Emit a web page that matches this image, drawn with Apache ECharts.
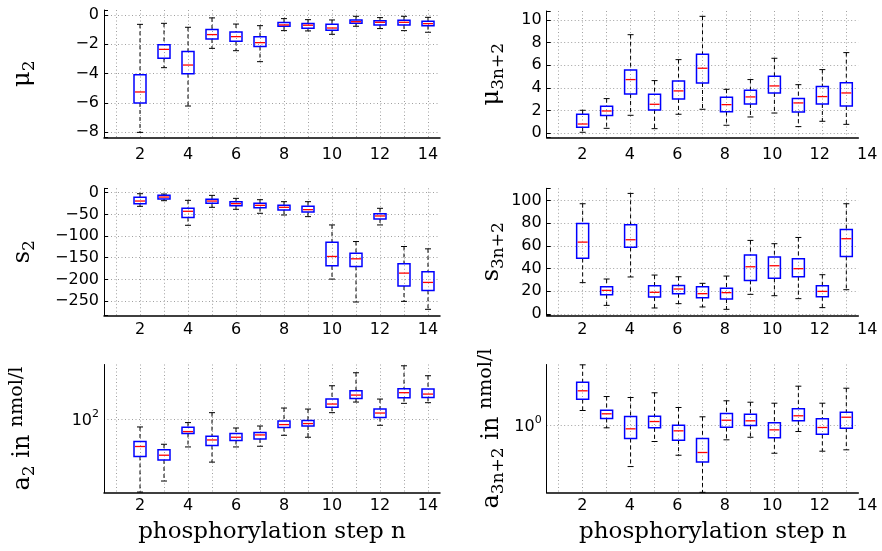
<!DOCTYPE html>
<html><head><meta charset="utf-8">
<script src="https://cdn.jsdelivr.net/npm/echarts@6/dist/echarts.min.js"></script>
<style>html,body{margin:0;padding:0;background:#fff}#c{width:882px;height:551px}</style>
</head><body><div id="c"></div>
<script>
// ---------- data ----------
const stepsLeft  = [2,3,4,5,6,7,8,9,10,11,12,13,14];
const stepsRight = [2,3,4,5,6,7,8,9,10,11,12,13];
const xTickLabels = [2,4,6,8,10,12,14];

// each box: [lower whisker, q1, median, q3, upper whisker]
const mu2Boxes = [
  [-8.02,-6.01,-5.26,-4.08,-0.64],[-3.6,-2.96,-2.35,-2.03,-0.57],[-6.22,-4.01,-3.42,-2.5,-0.84],
  [-2.28,-1.64,-1.34,-1.0,-0.2],[-2.44,-1.8,-1.48,-1.16,-0.62],[-3.19,-2.16,-1.89,-1.48,-0.73],
  [-1.07,-0.77,-0.68,-0.52,-0.25],[-1.09,-0.91,-0.7,-0.59,-0.32],[-1.32,-1.05,-0.89,-0.64,-0.34],
  [-0.77,-0.57,-0.46,-0.34,-0.09],[-0.93,-0.68,-0.5,-0.39,-0.18],[-1.07,-0.68,-0.5,-0.36,-0.09],
  [-1.18,-0.73,-0.59,-0.43,-0.16]
];
const mu3nBoxes = [
  [0.09,0.53,0.82,1.68,2.03],[0.44,1.56,1.97,2.38,3.06],[1.59,3.47,4.74,5.59,8.7],
  [0.41,2.06,2.56,3.44,4.65],[1.68,3.03,3.74,4.62,6.5],[2.12,4.44,5.74,6.97,10.32],
  [0.71,1.91,2.53,3.18,3.88],[1.44,2.59,3.21,3.79,4.74],[1.79,3.56,4.18,5.03,6.62],
  [0.59,1.88,2.68,3.06,4.29],[1.06,2.59,3.24,4.12,5.62],[0.79,2.41,3.56,4.47,7.12]
];
const s2Boxes = [
  [-31.4,-25.3,-19.2,-10.7,-2.3],[-18.4,-14.6,-10,-6.1,-3.1],[-75.2,-57.5,-42.9,-36,-17.6],
  [-33.7,-24.5,-19.2,-15.3,-6.1],[-38.3,-29.9,-25.3,-20.7,-13],[-47.5,-34.5,-29.1,-24.5,-16.1],
  [-51.4,-39.9,-33.7,-29.1,-20.7],[-55.2,-44.5,-39.1,-31.4,-20.7],[-199.4,-168.7,-147.2,-114.3,-74.4],
  [-252.3,-170.2,-152.6,-139.6,-112.7],[-74.4,-60.6,-53.7,-48.3,-36],[-250.8,-215.5,-185.6,-164.1,-124.2],
  [-269.2,-225.5,-207.1,-182.5,-129.6]
];
const s3nBoxes = [
  [27.6,49,63.3,79.8,97.1],[7.6,17,20.8,24,30.8],[32.6,58.7,65.4,78.6,106.2],
  [5.3,15,19.1,24.9,34.3],[9.1,17.9,22,25.2,32.8],[6.2,14.4,17.9,24,27],
  [4.1,13.2,18.8,22.6,33.4],[17.3,29.6,41.6,51.9,64.8],[16.1,31.4,42.5,50.1,61.9],
  [13.5,32.8,39.9,48.7,67.4],[5.6,15.2,19.9,24.9,34.6],[21.4,50.7,66.3,74.5,97.1]
];
const a2Boxes = [
  [24.5,48.6,58.9,64.9,85.8],[30.3,45.5,49.8,55.2,61.5],[58.4,75.6,78.5,85.3,93.3],
  [43.6,60,66.8,71.8,113],[58.4,66.1,70.4,75.6,84.1],[59.2,68.1,73.6,77.1,87.4],
  [73.1,84.8,89.8,96.2,123.5],[70.4,87.4,91.6,97,121.1],[113,125.2,133.4,146.8,189.7],
  [138.6,148.7,158.5,172.5,243.6],[88.6,102.7,112.2,121.1,146.8],[135.2,150.7,166,179.2,278.6],
  [136.9,151.6,161.6,177.8,230]
];
const a3nBoxes = [
  [1.316,1.63,1.92,2.26,3.16],[0.944,1.128,1.235,1.324,1.72],[0.449,0.769,0.926,1.173,1.689],
  [0.726,0.944,1.065,1.179,1.848],[0.558,0.744,0.891,0.992,1.394],[0.274,0.491,0.588,0.769,1.166],
  [0.75,0.955,1.092,1.242,1.585],[0.788,0.987,1.08,1.226,1.543],[0.58,0.779,0.908,1.039,1.514],
  [0.879,1.08,1.189,1.359,2.098],[0.603,0.835,0.95,1.122,1.514],[0.619,0.937,1.157,1.274,2.018]
];

const mu2Ticks = [-8,-6,-4,-2,0];
const mu3nTicks = [0,2,4,6,8,10];
const s2Ticks = [-250,-200,-150,-100,-50,0];
const s3nTicks = [0,20,40,60,80,100];

// ---------- style ----------
const TICK_FONT = 'DejaVu Sans';
const TITLE_FONT = 'DejaVu Serif';
const GRID_COLOR = '#a0a0a0';
const GRID_DASH = [1, 2.5];

const L = {left:104, width:336};
const R = {left:546.7, width:311.6};
const RL = {left:546.7, width:335.6};
const rows = [
  {top:10, height:127.5},
  {top:188.3, height:127},
  {top:364.5, height:128.2}
];

const titleRich = {
  g:{fontFamily:TITLE_FONT, fontSize:24, lineHeight:30, color:'#000', verticalAlign:'middle'},
  s:{fontFamily:TITLE_FONT, fontSize:17, lineHeight:14, color:'#000', verticalAlign:'bottom'},
  u:{fontFamily:TITLE_FONT, fontSize:19, lineHeight:18, color:'#000', verticalAlign:'top'}
};

function fmtNum(v){ return v < 0 ? '\u2212' + Math.abs(v) : String(v); }

function xAxisDef(gridIndex, max, opts) {
  return Object.assign({
    type:'value', gridIndex, min:0.5, max, minInterval:1, maxInterval:1, splitNumber:14,
    axisLine:{show:true, onZero:false, lineStyle:{color:'#000', width:1.5}},
    axisTick:{show:false},
    axisLabel:{show:true, margin:8, fontFamily:TICK_FONT, fontSize:16, color:'#000',
      formatter: v => xTickLabels.indexOf(v) >= 0 ? String(v) : ''},
    splitLine:{show:true, showMinLine:false, showMaxLine:false,
      lineStyle:{color:GRID_COLOR, type:GRID_DASH, width:1}}
  }, opts || {});
}

function yValueAxis(gridIndex, min, max, step, ticks, name, nameGap) {
  return {
    type:'value', gridIndex, min, max, minInterval:step, maxInterval:step,
    splitNumber: Math.round((max-min)/step),
    axisLine:{show:true, onZero:false, lineStyle:{color:'#000', width:1}},
    axisTick:{show:true, inside:true, length:4, lineStyle:{color:'#000'}},
    axisLabel:{margin:5, fontFamily:TICK_FONT, fontSize:16, color:'#000',
      formatter: v => ticks.some(t => Math.abs(t - v) < 1e-9) ? fmtNum(Math.round(v)) : ''},
    splitLine:{show:true, showMinLine:false, showMaxLine:false,
      lineStyle:{color:GRID_COLOR, type:GRID_DASH, width:1}},
    name, nameLocation:'middle', nameGap, nameRotate:90,
    nameTextStyle:{rich:titleRich}
  };
}

function yLogAxis(gridIndex, min, max, name, nameGap) {
  return {
    type:'log', logBase:10, gridIndex, min, max,
    axisLine:{show:true, onZero:false, lineStyle:{color:'#000', width:1}},
    axisTick:{show:false},
    minorTick:{show:false},
    axisLabel:{margin:5, color:'#000',
      formatter: v => {
        const e = Math.log10(v);
        return Math.abs(e - Math.round(e)) < 1e-6 ? '{b|10}{p|' + Math.round(e) + '}' : '';
      },
      rich:{
        b:{fontFamily:TICK_FONT, fontSize:16, lineHeight:20, color:'#000', verticalAlign:'bottom'},
        p:{fontFamily:TICK_FONT, fontSize:11, lineHeight:12, color:'#000', verticalAlign:'top'}
      }
    },
    splitLine:{show:true, showMinLine:false, showMaxLine:false,
      lineStyle:{color:GRID_COLOR, type:GRID_DASH, width:1}},
    name, nameLocation:'middle', nameGap, nameRotate:90,
    nameTextStyle:{rich:titleRich}
  };
}

function hiddenY(gridIndex) {
  return {type:'value', gridIndex, min:0, max:1, show:false};
}

function renderBox(params, api) {
  const x = api.value(0);
  const lo = api.coord([x, api.value(1)]);
  const q1 = api.coord([x, api.value(2)]);
  const md = api.coord([x, api.value(3)]);
  const q3 = api.coord([x, api.value(4)]);
  const hi = api.coord([x, api.value(5)]);
  const bw = api.size([0.5, 0])[0];
  const cw = api.size([0.25, 0])[0];
  const cx = lo[0];
  const dash = {stroke:'#000', lineWidth:1, lineDash:[4,3]};
  const solid = {stroke:'#000', lineWidth:1};
  return {type:'group', children:[
    {type:'line', shape:{x1:cx, y1:hi[1], x2:cx, y2:q3[1]}, style:dash},
    {type:'line', shape:{x1:cx, y1:q1[1], x2:cx, y2:lo[1]}, style:dash},
    {type:'line', shape:{x1:cx-cw/2, y1:hi[1], x2:cx+cw/2, y2:hi[1]}, style:solid},
    {type:'line', shape:{x1:cx-cw/2, y1:lo[1], x2:cx+cw/2, y2:lo[1]}, style:solid},
    {type:'rect', shape:{x:cx-bw/2, y:q3[1], width:bw, height:q1[1]-q3[1]},
      style:{fill:'rgba(0,0,0,0)', stroke:'#0000ff', lineWidth:1.5}},
    {type:'line', shape:{x1:cx-bw/2+1, y1:md[1], x2:cx+bw/2-1, y2:md[1]},
      style:{stroke:'#ff0000', lineWidth:1.3}}
  ]};
}

function boxSeries(xi, yi, steps, boxes) {
  return {
    type:'custom', xAxisIndex:xi, yAxisIndex:yi, clip:false, silent:true,
    renderItem: renderBox,
    encode:{x:0, y:[1,2,3,4,5]},
    data: steps.map((s, i) => [s].concat(boxes[i]))
  };
}

const grids = [
  Object.assign({}, L, rows[0]),   // 0 mu2
  Object.assign({}, R, {top:11, height:126.5}), // 1 mu3n main
  Object.assign({}, RL, {top:11, height:126.5}), // 2 mu3n labels
  Object.assign({}, L, rows[1]),   // 3 s2
  Object.assign({}, R, rows[1]),   // 4 s3n main
  Object.assign({}, RL, rows[1]),  // 5 s3n labels
  Object.assign({}, L, rows[2]),   // 6 a2
  Object.assign({}, R, rows[2]),   // 7 a3n main
  Object.assign({}, RL, rows[2])   // 8 a3n labels
];

const labelOnly = {axisLine:{show:false}, splitLine:{show:false}};
const noLabel = {axisLabel:{show:false}};
const xName = {name:'phosphorylation step n', nameLocation:'middle', nameGap:28,
  nameTextStyle:{fontFamily:TITLE_FONT, fontSize:23, color:'#000'}};

const xAxes = [
  xAxisDef(0, 14.5, {axisLabel:Object.assign(xAxisDef(0,14.5).axisLabel, {margin:9})}),
  xAxisDef(1, 13.5, noLabel),
  xAxisDef(2, 14.5, Object.assign({}, labelOnly, {axisLabel:Object.assign(xAxisDef(2,14.5).axisLabel, {margin:9})})),
  xAxisDef(3, 14.5, {axisLabel:Object.assign(xAxisDef(3,14.5).axisLabel, {margin:7})}),
  xAxisDef(4, 13.5, noLabel),
  xAxisDef(5, 14.5, Object.assign({}, labelOnly, {axisLabel:Object.assign(xAxisDef(5,14.5).axisLabel, {margin:7})})),
  xAxisDef(6, 14.5, Object.assign({axisLabel:Object.assign(xAxisDef(6,14.5).axisLabel, {margin:5})}, xName)),
  xAxisDef(7, 13.5, noLabel),
  xAxisDef(8, 14.5, Object.assign({}, labelOnly, {axisLabel:Object.assign(xAxisDef(8,14.5).axisLabel, {margin:5})}, xName))
];

const yAxes = [
  yValueAxis(0, -8.37, 0.34, 2, mu2Ticks, '{g|μ}{s|2}', 66),
  yValueAxis(1, -0.37, 10.79, 2, mu3nTicks, '{g|μ}{s|3n+2}', 40),
  hiddenY(2),
  yValueAxis(3, -283, 10.2, 50, s2Ticks, '{g|s}{s|2}', 66),
  yValueAxis(4, -1.15, 110.7, 20, s3nTicks, '{g|s}{s|3n+2}', 40),
  hiddenY(5),
  yLogAxis(6, 24.2, 285.6, '{g|a}{s|2}{g| in }{u|nmol/l}', 66),
  yLogAxis(7, 0.272, 3.18, '{g|a}{s|3n+2}{g| in }{u|nmol/l}', 40),
  hiddenY(8)
];

const chart = echarts.init(document.getElementById('c'), null, {renderer:'canvas'});
chart.setOption({
  backgroundColor:'#fff',
  animation:false,
  grid: grids,
  xAxis: xAxes,
  yAxis: yAxes,
  series: [
    boxSeries(0, 0, stepsLeft, mu2Boxes),
    boxSeries(1, 1, stepsRight, mu3nBoxes),
    boxSeries(3, 3, stepsLeft, s2Boxes),
    boxSeries(4, 4, stepsRight, s3nBoxes),
    boxSeries(6, 6, stepsLeft, a2Boxes),
    boxSeries(7, 7, stepsRight, a3nBoxes)
  ]
});
</script></body></html>
